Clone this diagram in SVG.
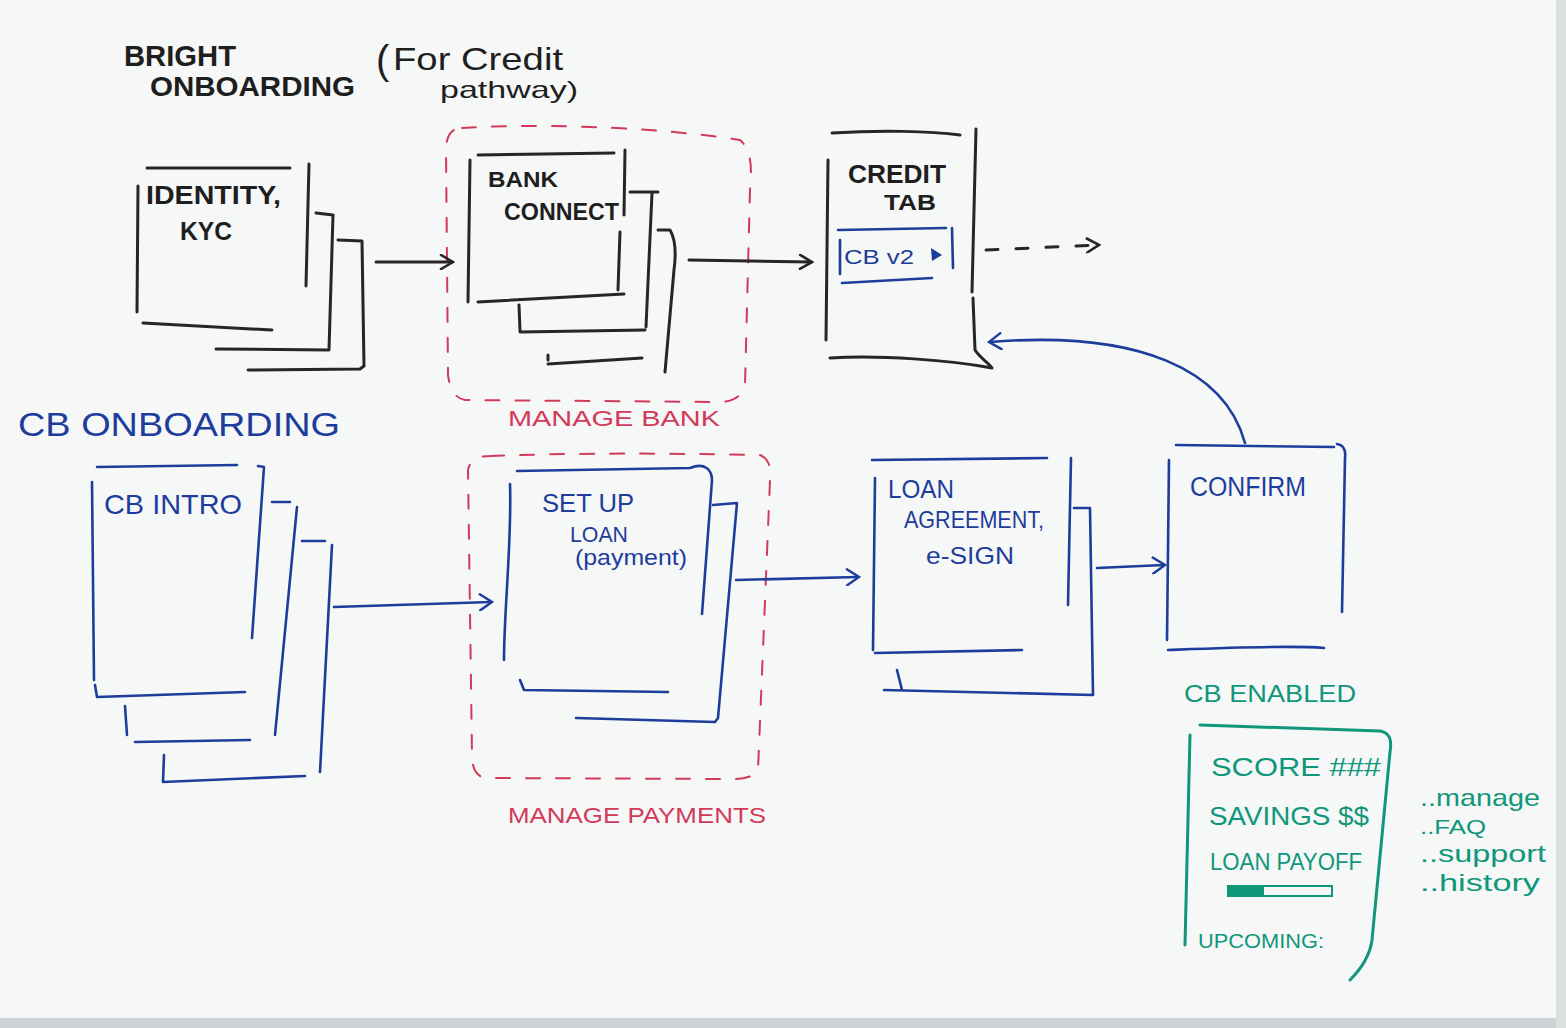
<svg xmlns="http://www.w3.org/2000/svg" width="1566" height="1028" viewBox="0 0 1566 1028">
<defs>
<style>
.k{fill:none;stroke:#262626;stroke-width:3;stroke-linecap:round;stroke-linejoin:round}
.b{fill:none;stroke:#1d3d9c;stroke-width:2.6;stroke-linecap:round;stroke-linejoin:round}
.g{fill:none;stroke:#10967a;stroke-width:3;stroke-linecap:round;stroke-linejoin:round}
.r{fill:none;stroke:#d23a5a;stroke-width:2;stroke-dasharray:14 16;stroke-linecap:round}
.tk{font-family:"Liberation Sans",Arial,sans-serif;fill:#1e1e1e;font-weight:bold}
.tn{font-family:"Liberation Sans",Arial,sans-serif;fill:#1e1e1e}
.tb{font-family:"Liberation Sans",Arial,sans-serif;fill:#1d3d9c}
.tg{font-family:"Liberation Sans",Arial,sans-serif;fill:#10967a}
.tr{font-family:"Liberation Sans",Arial,sans-serif;fill:#d23a5a}
</style>
<marker id="ak" markerWidth="16" markerHeight="16" refX="13" refY="8" orient="auto" markerUnits="userSpaceOnUse"><path d="M2,1 L14,8 L2,15" fill="none" stroke="#262626" stroke-width="2.6" stroke-linecap="round"/></marker>
<marker id="ab" markerWidth="16" markerHeight="18" refX="13" refY="9" orient="auto" markerUnits="userSpaceOnUse"><path d="M2,1 L14,9 L2,17" fill="none" stroke="#1d3d9c" stroke-width="2.4" stroke-linecap="round"/></marker>
</defs>
<rect x="0" y="0" width="1566" height="1028" fill="#f6f7f7"/>
<rect x="0" y="1018" width="1566" height="10" fill="#cfd2d4"/>
<rect x="1556" y="0" width="10" height="1028" fill="#dcdfe0"/>

<g id="title">
<text class="tk" x="124" y="66" font-size="30" textLength="112" lengthAdjust="spacingAndGlyphs">BRIGHT</text>
<text class="tk" x="150" y="96" font-size="28" textLength="205" lengthAdjust="spacingAndGlyphs">ONBOARDING</text>
<text class="tn" x="376" y="74" font-size="40">(</text>
<text class="tn" x="393" y="70" font-size="32" textLength="170" lengthAdjust="spacingAndGlyphs">For Credit</text>
<text class="tn" x="440" y="98" font-size="24" textLength="138" lengthAdjust="spacingAndGlyphs">pathway)</text>
</g>

<g id="manage-bank">
<path class="r" d="M462,128 C560,122 680,130 740,140 C752,150 752,170 750,190 L745,385 C742,398 730,402 720,402 L465,400 C455,398 450,390 448,375 L446,150 C446,135 452,128 462,128"/>
<text class="tr" x="508" y="426" font-size="22" textLength="212" lengthAdjust="spacingAndGlyphs">MANAGE BANK</text>
</g>

<g id="manage-payments">
<path class="r" d="M490,456 C600,452 700,454 760,455 C768,458 772,468 770,480 L758,770 C755,776 745,779 735,779 L485,778 C476,776 472,768 472,755 L468,470 C470,460 478,456 490,456"/>
<text class="tr" x="508" y="823" font-size="22" textLength="258" lengthAdjust="spacingAndGlyphs">MANAGE PAYMENTS</text>
</g>

<g id="identity-kyc">
<path class="k" d="M147,168 L290,168 M138,186 L137,312 M309,164 L306,286 M143,323 L272,330"/>
<path class="k" d="M316,213 L333,215 L329,350 L216,349"/>
<path class="k" d="M338,240 L362,241 L364,366 L360,369 L248,370"/>
<text class="tk" x="146" y="204" font-size="25" textLength="135" lengthAdjust="spacingAndGlyphs">IDENTITY,</text>
<text class="tk" x="180" y="240" font-size="25" textLength="52" lengthAdjust="spacingAndGlyphs">KYC</text>
</g>

<g id="bank-connect">
<path class="k" d="M478,155 L614,153 M470,160 L468,302 M625,150 L624,215 M620,232 L618,290 M478,302 L624,294"/>
<path class="k" d="M630,192 L658,192 M652,193 L646,327 M520,332 L645,330 M519,305 L520,331"/>
<path class="k" d="M658,230 L670,230 C676,240 676,255 674,270 L665,372 M548,364 L642,358 M548,355 L548,360"/>
<text class="tk" x="488" y="187" font-size="22" textLength="70" lengthAdjust="spacingAndGlyphs">BANK</text>
<text class="tk" x="504" y="220" font-size="24" textLength="115" lengthAdjust="spacingAndGlyphs">CONNECT</text>
</g>

<g id="credit-tab">
<path class="k" d="M832,133 C880,130 930,131 960,135 M828,160 L826,340 M976,129 L972,292 M973,298 L975,350 C980,358 988,362 992,368 M830,358 C880,355 950,360 992,368"/>
<text class="tk" x="848" y="183" font-size="26" textLength="98" lengthAdjust="spacingAndGlyphs">CREDIT</text>
<text class="tk" x="884" y="210" font-size="22" textLength="52" lengthAdjust="spacingAndGlyphs">TAB</text>
<path class="b" d="M838,230 L946,228 M840,240 L840,274 M952,228 L953,268 M842,283 L932,278"/>
<text class="tb" x="844" y="264" font-size="21" textLength="70" lengthAdjust="spacingAndGlyphs">CB v2</text>
<path d="M931,248 L942,255 L932,261 Z" fill="#1d3d9c"/>
</g>

<g id="cb-onboarding-label">
<text class="tb" x="18" y="436" font-size="34" textLength="322" lengthAdjust="spacingAndGlyphs">CB ONBOARDING</text>
</g>

<g id="cb-intro">
<path class="b" d="M97,467 L237,465 M92,482 L94,680 M258,466 L264,467 L252,638 M95,685 L97,697 L245,692"/>
<path class="b" d="M272,502 L290,502 M297,507 L275,735 M135,742 L250,740 M125,706 L127,735"/>
<path class="b" d="M302,541 L325,541 M332,545 L320,772 M163,782 L305,776 M164,755 L163,782"/>
<text class="tb" x="104" y="514" font-size="28" textLength="138" lengthAdjust="spacingAndGlyphs">CB INTRO</text>
</g>

<g id="set-up-loan">
<path class="b" d="M517,471 L690,468 M690,468 C705,462 712,470 712,480 L702,614 M510,484 C512,540 504,610 504,660 M520,680 L524,690 L668,692"/>
<path class="b" d="M713,505 L737,503 L718,718 L715,722 L576,718"/>
<text class="tb" x="542" y="512" font-size="25" textLength="92" lengthAdjust="spacingAndGlyphs">SET UP</text>
<text class="tb" x="570" y="542" font-size="22" textLength="58" lengthAdjust="spacingAndGlyphs">LOAN</text>
<text class="tb" x="575" y="565" font-size="22" textLength="112" lengthAdjust="spacingAndGlyphs">(payment)</text>
</g>

<g id="loan-agreement">
<path class="b" d="M872,460 L1047,458 M875,478 L873,650 M1071,458 L1068,605 M875,653 L1022,650"/>
<path class="b" d="M1074,508 L1090,508 L1093,695 L884,690 M897,670 L902,690"/>
<text class="tb" x="888" y="498" font-size="25" textLength="66" lengthAdjust="spacingAndGlyphs">LOAN</text>
<text class="tb" x="904" y="528" font-size="24" textLength="140" lengthAdjust="spacingAndGlyphs">AGREEMENT,</text>
<text class="tb" x="926" y="564" font-size="24" textLength="88" lengthAdjust="spacingAndGlyphs">e-SIGN</text>
</g>

<g id="confirm">
<path class="b" d="M1176,445 L1334,447 M1337,444 C1344,445 1346,450 1345,458 L1342,612 M1169,460 L1167,640 M1168,650 C1220,648 1290,645 1324,648"/>
<text class="tb" x="1190" y="496" font-size="27" textLength="116" lengthAdjust="spacingAndGlyphs">CONFIRM</text>
</g>

<g id="cb-enabled">
<text class="tg" x="1184" y="702" font-size="23" textLength="172" lengthAdjust="spacingAndGlyphs">CB ENABLED</text>
<path class="g" d="M1200,725 L1380,731 C1390,733 1392,740 1390,752 L1372,940 C1370,955 1362,968 1350,980 M1190,735 L1185,945"/>
<text class="tg" x="1211" y="776" font-size="25" textLength="170" lengthAdjust="spacingAndGlyphs">SCORE ###</text>
<text class="tg" x="1209" y="825" font-size="26" textLength="160" lengthAdjust="spacingAndGlyphs">SAVINGS $$</text>
<text class="tg" x="1210" y="870" font-size="23" textLength="152" lengthAdjust="spacingAndGlyphs">LOAN PAYOFF</text>
<rect x="1228" y="886" width="104" height="10" fill="none" stroke="#10967a" stroke-width="2"/>
<rect x="1228" y="886" width="36" height="10" fill="#10967a"/>
<text class="tg" x="1198" y="948" font-size="20" textLength="126" lengthAdjust="spacingAndGlyphs">UPCOMING:</text>
<text class="tg" x="1420" y="806" font-size="24" textLength="120" lengthAdjust="spacingAndGlyphs">..manage</text>
<text class="tg" x="1420" y="834" font-size="20" textLength="66" lengthAdjust="spacingAndGlyphs">..FAQ</text>
<text class="tg" x="1420" y="862" font-size="24" textLength="126" lengthAdjust="spacingAndGlyphs">..support</text>
<text class="tg" x="1420" y="891" font-size="24" textLength="120" lengthAdjust="spacingAndGlyphs">..history</text>
</g>

<g id="connectors">
<path class="k" d="M376,262 L452,262" marker-end="url(#ak)"/>
<path class="k" d="M689,260 L811,262" stroke="#444" marker-end="url(#ak)"/>
<path class="k" d="M986,250 L1098,245" stroke-dasharray="12 18" marker-end="url(#ak)"/>
<path class="b" d="M334,607 L491,602" marker-end="url(#ab)"/>
<path class="b" d="M736,580 L858,577" marker-end="url(#ab)"/>
<path class="b" d="M1097,568 L1164,565" marker-end="url(#ab)"/>
<path class="b" d="M1245,443 C1225,370 1140,330 990,342" marker-end="url(#ab)"/>
</g>
</svg>
